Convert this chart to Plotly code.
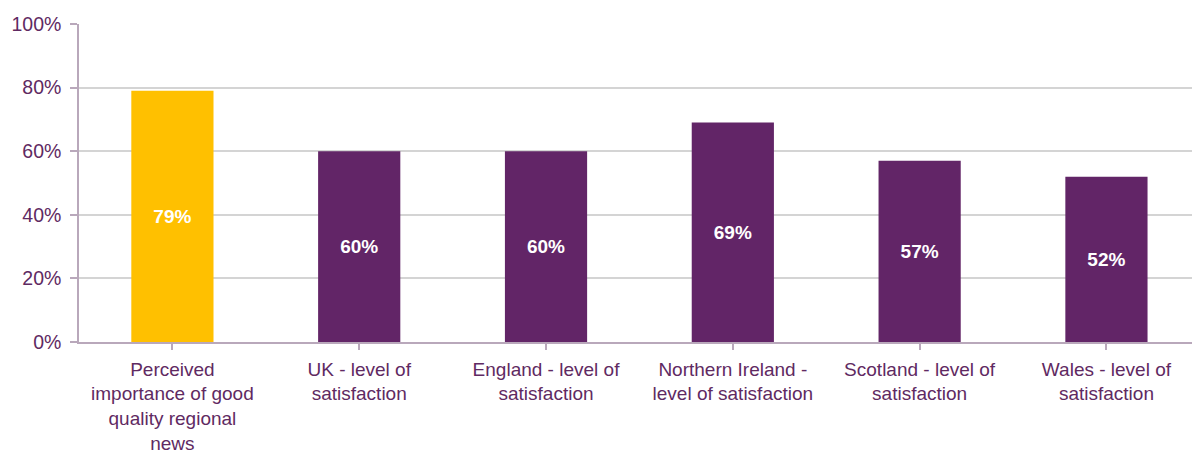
import plotly.graph_objects as go

categories = [
    "Perceived<br>importance of good<br>quality regional<br>news",
    "UK - level of<br>satisfaction",
    "England - level of<br>satisfaction",
    "Northern Ireland -<br>level of satisfaction",
    "Scotland - level of<br>satisfaction",
    "Wales - level of<br>satisfaction",
]
values = [79, 60, 60, 69, 57, 52]
bar_colors = ["#FFC000", "#622567", "#622567", "#622567", "#622567", "#622567"]
y_ticks = [0, 20, 40, 60, 80, 100]
y_tick_labels = ["0%", "20%", "40%", "60%", "80%", "100%"]

FONT = "Liberation Sans, Arial, sans-serif"
TEXT_PURPLE = "#5F2A62"
AXIS_COLOR = "#B9A8BB"
GRID_COLOR = "#D4D4D4"

fig = go.Figure(
    go.Bar(
        x=list(range(len(categories))),
        y=values,
        marker=dict(color=bar_colors, line=dict(width=0)),
        width=0.44,
        text=[f"{v}%" for v in values],
        textposition="inside",
        insidetextanchor="middle",
        textangle=0,
        textfont=dict(family=FONT, size=19, color="white", weight="bold"),
        hoverinfo="skip",
    )
)

fig.update_layout(
    width=1192,
    height=450,
    margin=dict(l=79, r=0, t=24, b=108),
    paper_bgcolor="white",
    plot_bgcolor="white",
    showlegend=False,
    font=dict(family=FONT, size=19, color=TEXT_PURPLE),
)

fig.update_xaxes(
    range=[-0.5, 5.458],
    automargin=False,
    tickmode="array",
    tickvals=list(range(len(categories))),
    ticktext=categories,
    tickson="boundaries",
    ticks="outside",
    ticklen=6,
    tickwidth=1.5,
    tickcolor=AXIS_COLOR,
    showline=True,
    linecolor=AXIS_COLOR,
    linewidth=1.5,
    showgrid=False,
    zeroline=False,
    tickfont=dict(family=FONT, size=19, color=TEXT_PURPLE),
    ticklabelstandoff=3,
)

fig.update_yaxes(
    range=[0, 100],
    automargin=False,
    tickmode="array",
    tickvals=y_ticks,
    ticktext=y_tick_labels,
    ticks="outside",
    ticklen=7,
    tickwidth=1.5,
    tickcolor=AXIS_COLOR,
    showline=True,
    linecolor=AXIS_COLOR,
    linewidth=1.5,
    showgrid=True,
    gridcolor=GRID_COLOR,
    gridwidth=1.5,
    zeroline=False,
    tickfont=dict(family=FONT, size=19.5, color=TEXT_PURPLE),
    ticklabelstandoff=5,
)

fig.write_html("out.html")
